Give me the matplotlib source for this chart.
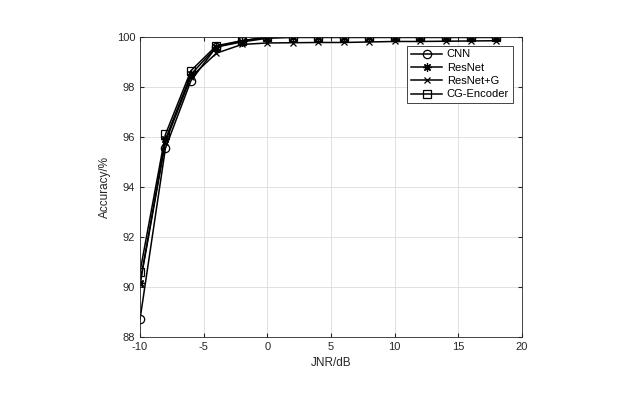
import matplotlib
matplotlib.use("Agg")
import matplotlib.pyplot as plt

plt.rcParams['font.family'] = ['Liberation Sans', 'DejaVu Sans']
plt.rcParams['axes.unicode_minus'] = False

jnr = [-10, -8, -6, -4, -2, 0, 2, 4, 6, 8, 10, 12, 14, 16, 18]
cnn = [88.7, 95.55, 98.25, 99.6, 99.85, 99.98, 100, 100, 100, 100, 100, 100, 100, 100, 100]
resnet = [90.15, 95.9, 98.5, 99.6, 99.8, 99.95, 99.98, 99.98, 99.98, 99.98, 99.98, 99.98, 99.98, 99.98, 99.98]
resnet_g = [90.1, 95.8, 98.4, 99.35, 99.7, 99.76, 99.77, 99.78, 99.78, 99.8, 99.82, 99.82, 99.83, 99.84, 99.85]
cg_encoder = [90.6, 96.1, 98.65, 99.65, 99.85, 100, 100, 100, 100, 100, 100, 100, 100, 100, 100]

labels = ['CNN', 'ResNet', 'ResNet+G', 'CG-Encoder']
markers = ['o', (8, 2, 0), 'x', 's']
msizes = [6, 6, 4.5, 5.5]
series = [cnn, resnet, resnet_g, cg_encoder]

fig = plt.figure(figsize=(6.26, 3.98), dpi=100)
ax = fig.add_axes([0.2236, 0.1533, 0.6102, 0.7538])

for s, m, ms, l in zip(series, markers, msizes, labels):
    ax.plot(jnr, s, color='black', marker=m, markersize=ms,
            markerfacecolor='none', markeredgecolor='black', markeredgewidth=0.9,
            linewidth=1.1, label=l)

ax.set_xlim(-10, 20)
ax.set_ylim(88, 100)
ax.set_xticks([-10, -5, 0, 5, 10, 15, 20])
ax.set_yticks([88, 90, 92, 94, 96, 98, 100])
ax.grid(True, color='#dcdcdc', linewidth=0.6)
ax.set_axisbelow(True)
ax.tick_params(direction='in', labelsize=8, colors='#262626', length=3, top=True, right=True)
for sp in ax.spines.values():
    sp.set_color('#262626')
    sp.set_linewidth(0.6)
ax.set_xlabel('JNR/dB', fontsize=8.5, color='#262626')
ax.set_ylabel('Accuracy/%', fontsize=8.5, color='#262626')

leg = ax.legend(loc='upper right', bbox_to_anchor=(0.991, 0.99), fontsize=8, fancybox=False,
                edgecolor='#262626', framealpha=1, handlelength=2.8, borderpad=0.35,
                labelspacing=0.3, handletextpad=0.4)
leg.get_frame().set_linewidth(0.6)

fig.savefig('out.png', dpi=100)
